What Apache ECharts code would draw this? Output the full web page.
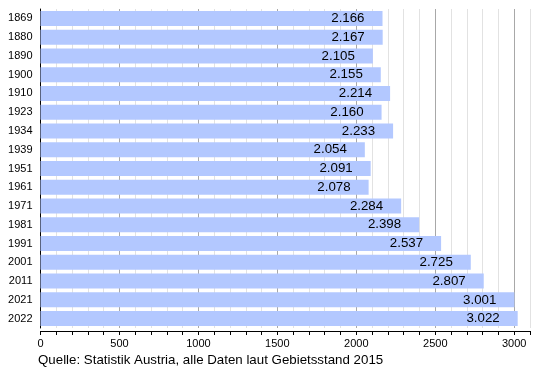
<!DOCTYPE html>
<html>
<head>
<meta charset="utf-8">
<script src="https://cdn.jsdelivr.net/npm/echarts@6/dist/echarts.min.js"></script>
<style>html,body{margin:0;padding:0;background:#fff}#c{width:550px;height:370px}</style>
</head>
<body>
<div id="c"></div>
<script>
const years = ['1869','1880','1890','1900','1910','1923','1934','1939','1951','1961','1971','1981','1991','2001','2011','2021','2022'];
const population = [2166,2167,2105,2155,2214,2160,2233,2054,2091,2078,2284,2398,2537,2725,2807,3001,3022];
const sourceText = 'Quelle: Statistik Austria, alle Daten laut Gebietsstand 2015';

const chart = echarts.init(document.getElementById('c'), null, {renderer: 'canvas'});
const fmt = v => (v / 1000).toFixed(3);
chart.setOption({
  animation: false,
  textStyle: {fontFamily: 'Liberation Sans, Arial, sans-serif'},
  grid: {left: 40.5, right: 20, top: 9, bottom: 42, containLabel: false},
  graphic: [{
    type: 'text', left: 38, top: 354,
    style: {text: sourceText, fontSize: 13.3, fill: '#000', fontFamily: 'Liberation Sans, Arial, sans-serif'}
  }],
  xAxis: {
    type: 'value', min: 0, max: 3100, interval: 100, offset: 3,
    axisLine: {show: true, lineStyle: {color: '#000', width: 1}},
    axisTick: {show: true, length: 4, lineStyle: {color: '#000'}},
    axisLabel: {
      interval: 0, margin: 7, fontSize: 11, color: '#000',
      formatter: v => (v % 500 === 0 ? String(v) : '')
    },
    splitLine: {show: true, lineStyle: {color: ['#a8a8a8', '#e2e2e2', '#e2e2e2', '#e2e2e2', '#e2e2e2'], width: 1}}
  },
  yAxis: {
    type: 'category', data: years, inverse: true,
    axisLine: {show: true, lineStyle: {color: '#000', width: 1}},
    axisTick: {show: false},
    axisLabel: {fontSize: 11, color: '#000', margin: 8}
  },
  series: [{
    type: 'bar', data: population, barCategoryGap: '20%',
    itemStyle: {color: '#b3c8ff'},
    label: {
      show: true, position: 'insideRight', distance: 18,
      fontSize: 13.3, color: '#000',
      formatter: p => fmt(p.value)
    }
  }]
});
</script>
</body>
</html>
